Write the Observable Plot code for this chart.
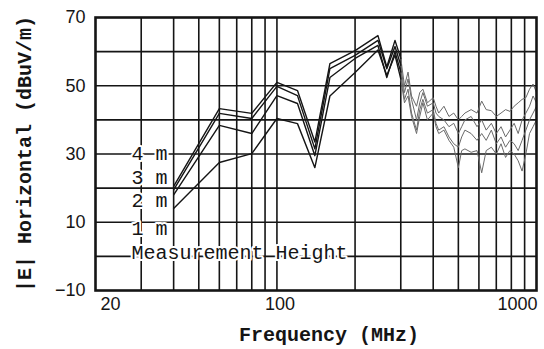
<!DOCTYPE html>
<html>
<head>
<meta charset="utf-8">
<script src="https://cdn.jsdelivr.net/npm/d3@7"></script>
<script src="https://cdn.jsdelivr.net/npm/@observablehq/plot@0.6"></script>
<style>
  html, body { margin: 0; padding: 0; background: #fff; }
  #chart svg { display: block; }
</style>
</head>
<body>
<div id="chart"></div>
<script>
// Frequencies (MHz) at which the curves were read
const freqs = [40, 60, 80, 100, 120, 140, 160, 200, 245, 265, 285, 300,
  310, 320, 330, 345, 355, 365, 380, 400, 410, 420, 440, 460, 480, 500, 515, 530,
  560, 590, 615, 640, 670, 700, 730, 760, 790, 820, 850, 880, 910, 940, 970, 1000];

// |E| horizontal (dBuV/m) per measurement height
const h4m = [20.5, 43.3, 41.9, 51.0, 48.6, 33.5, 56.5, 60.3, 64.7, 55.5, 63.3, 58,
  50, 54, 47, 44, 48, 49, 45, 46.5, 44, 42, 44, 41, 42, 40, 41, 42,
  43, 42, 45.5, 43, 42.7, 41, 42, 43, 42.5, 44, 45, 46, 46.5, 49, 50.5, 48];
const h3m = [19.5, 41.9, 40.4, 49.8, 47.1, 31.5, 55.0, 58.9, 63.3, 55.0, 61.5, 56,
  48, 52, 46, 40, 45, 48, 44, 45, 42, 41, 40, 38, 39, 36, 38, 40,
  41, 38, 40, 37, 39, 36, 38, 35, 37, 39, 36, 40, 42, 44, 47, 45];
const h2m = [18.0, 38.4, 36.0, 47.1, 44.8, 29.5, 52.4, 58.0, 61.8, 52.4, 60.0, 54,
  46, 49, 42, 37, 43, 46, 42, 43, 39, 37, 38, 35, 33, 32, 35, 37,
  36, 34, 36, 34, 37, 33, 35, 32, 34, 33, 31, 34, 37, 40, 42, 44];
const h1m = [14.0, 27.5, 30.1, 40.4, 38.9, 26.0, 47.0, 53.9, 60.5, 53.0, 59.0, 52,
  45, 47, 41, 36, 41, 45, 40, 42, 38, 36, 37, 34, 32, 26, 31, 31.5,
  30.5, 31, 24.5, 31, 32, 30, 33, 29, 31, 30, 28, 25, 30, 36, 38, 40];

const seriesNames = ["4 m", "3 m", "2 m", "1 m"];
const seriesValues = [h4m, h3m, h2m, h1m];

// Axis ticks and grid
const yTicks = [70, 50, 30, 10, -10];
const yGrid = [0, 10, 20, 30, 40, 50, 60];
const xGrid = [30, 40, 50, 60, 70, 80, 90, 100, 200, 300, 400, 500, 600, 700, 800, 900];

const rows = seriesNames.flatMap((name, i) =>
  freqs.map((f, j) => ({name, f, v: seriesValues[i][j]})));

const mono = "'Liberation Mono', 'DejaVu Sans Mono', monospace";
const ink = "#151515";

const chart = Plot.plot({
  width: 544,
  height: 349,
  marginLeft: 95,
  marginRight: 8,
  marginTop: 17,
  marginBottom: 59,
  style: {fontFamily: "'Liberation Sans', Arial, sans-serif", fontSize: "18px", color: ink, background: "#fff"},
  x: {type: "log", domain: [20, 1000]},
  y: {domain: [-10, 70]},
  marks: [
    Plot.gridX(xGrid, {stroke: ink, strokeOpacity: 1, strokeWidth: 1.6}),
    Plot.gridY(yGrid, {stroke: ink, strokeOpacity: 1, strokeWidth: 1.6}),
    // curve labels with white halo
    Plot.text(seriesNames, {x: () => 27.5, y: (d, i) => [30, 23, 16.2, 8.2][i], text: d => d,
      textAnchor: "start", fontFamily: mono, fontSize: 20, fill: ink, stroke: "#fff", strokeWidth: 4}),
    Plot.text(["Measurement Height"], {x: () => 27.5, y: () => 1.1, text: d => d,
      textAnchor: "start", fontFamily: mono, fontSize: 20, fill: ink, stroke: "#fff", strokeWidth: 4}),
    Plot.line(rows.filter(d => d.f >= 300), {x: "f", y: "v", z: "name", stroke: "#6a6a6a", strokeWidth: 1}),
    Plot.line(rows.filter(d => d.f <= 300), {x: "f", y: "v", z: "name", stroke: ink, strokeWidth: 1.4}),
    Plot.frame({stroke: ink, strokeWidth: 2.6}),
    Plot.axisY(yTicks, {tickSize: 0, tickPadding: 10, label: null, fontSize: 18}),
    Plot.axisX([20], {tickSize: 0, tickPadding: 7, dx: 15, label: null, tickFormat: d => String(d)}),
    Plot.axisX([100], {tickSize: 0, tickPadding: 7, dx: 3, label: null, tickFormat: d => String(d)}),
    Plot.axisX([1000], {tickSize: 0, tickPadding: 7, dx: -19, label: null, tickFormat: d => String(d)}),
    Plot.text(["Frequency (MHz)"], {frameAnchor: "bottom", dx: 13, dy: 50, text: d => d,
      textAnchor: "middle", fontFamily: mono, fontSize: 20, fontWeight: "bold", fill: ink}),
    Plot.text(["|E| Horizontal (dBuV/m)"], {frameAnchor: "left", dx: -71, rotate: -90, text: d => d,
      textAnchor: "middle", fontFamily: mono, fontSize: 20, fontWeight: "bold", fill: ink})
  ]
});
document.getElementById("chart").appendChild(chart);
</script>
</body>
</html>
